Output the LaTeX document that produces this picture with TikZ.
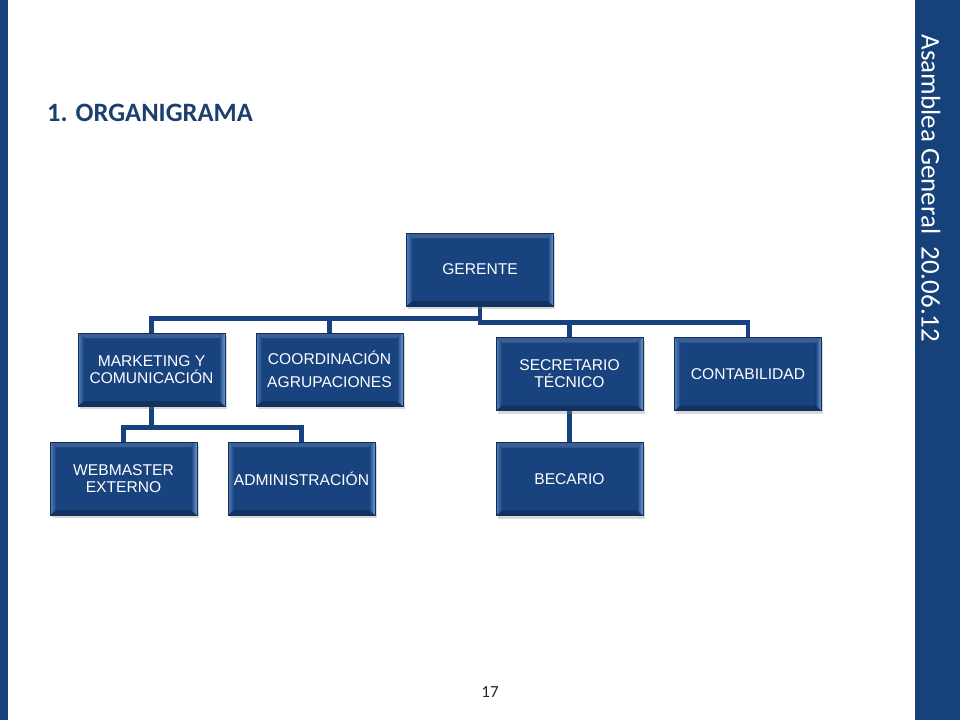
\documentclass[tikz,border=0pt]{standalone}
\usepackage{fontspec}
\setmainfont{Liberation Sans}
\newfontfamily\calibrifont{Carlito}
\usetikzlibrary{shadows,backgrounds}
\definecolor{barblue}{HTML}{16417A}
\definecolor{titleblue}{HTML}{1C3F6E}
\definecolor{boxblue}{HTML}{18437F}
\definecolor{bevellight}{HTML}{6F9AD0}
\definecolor{linkblue}{HTML}{17427F}

\begin{document}
\begin{tikzpicture}[x=1pt,y=-1pt,
  orgbox/.style={draw=boxblue!70!black,line width=0.6pt,fill=boxblue,
    minimum width=147pt,minimum height=73pt,inner sep=0pt,
    text=white,align=center,font=\fontsize{15.6}{17}\selectfont,
    drop shadow={shadow xshift=1.5pt,shadow yshift=-3pt,opacity=0.3},
    path picture={
      \fill[boxblue!85!white] (path picture bounding box.north west) -- (path picture bounding box.north east)
        -- ([shift={(-6pt,-5pt)}]path picture bounding box.north east) -- ([shift={(6pt,-5pt)}]path picture bounding box.north west) -- cycle;
      \fill[boxblue!75!black] (path picture bounding box.south west) -- (path picture bounding box.south east)
        -- ([shift={(-6pt,5pt)}]path picture bounding box.south east) -- ([shift={(6pt,5pt)}]path picture bounding box.south west) -- cycle;
      \shade[left color=bevellight!70!boxblue,right color=boxblue] (path picture bounding box.north west)
        -- ([shift={(6pt,-5pt)}]path picture bounding box.north west) -- ([shift={(6pt,5pt)}]path picture bounding box.south west)
        -- (path picture bounding box.south west) -- cycle;
      \shade[left color=boxblue,right color=bevellight] (path picture bounding box.north east)
        -- ([shift={(-6pt,-5pt)}]path picture bounding box.north east) -- ([shift={(-6pt,5pt)}]path picture bounding box.south east)
        -- (path picture bounding box.south east) -- cycle;}},
  link/.style={linkblue,line width=4.5pt}]
\useasboundingbox (0,0) rectangle (960,720);
            % Frame
\fill[barblue] (0,0) rectangle (8,720);
\fill[barblue] (915,0) rectangle (960,720);
\node[rotate=-90,text=white,font=\calibrifont\fontsize{27}{31}\selectfont] (side) at (931,188.5) {Asamblea General\ \ 20.06.12};
\node[anchor=west,inner sep=0pt,text=titleblue,font=\calibrifont\bfseries\fontsize{26.5}{31}\selectfont] (title) at (47,113) {1. ORGANIGRAMA};
\node[text=black!85,font=\calibrifont\fontsize{17}{20}\selectfont] (page) at (490,692) {17};
            % Boxes
\node[orgbox] (ger) at (480,269.5) {GERENTE};
\node[orgbox] (mkt) at (151.5,369.5) {MARKETING Y\\COMUNICACIÓN};
\node[orgbox,font=\fontsize{15.6}{23.5}\selectfont] (coo) at (329.5,369.5) {COORDINACIÓN\\AGRUPACIONES};
\node[orgbox] (sec) at (569.5,374) {SECRETARIO\\TÉCNICO};
\node[orgbox] (con) at (748,374) {CONTABILIDAD};
\node[orgbox] (web) at (123.5,478.5) {WEBMASTER\\EXTERNO};
\node[orgbox] (adm) at (301.5,478.5) {ADMINISTRACIÓN};
\node[orgbox] (bec) at (569.5,479) {BECARIO};
            % Links
\begin{scope}[on background layer]
\draw[link] (ger.south) -- ++(0,12) -| (mkt.north);
\draw[link] (ger.south) -- ++(0,12) -| (coo.north);
\draw[link] (ger.south) -- ++(0,16) -| (sec.north);
\draw[link] (ger.south) -- ++(0,16) -| (con.north);
\draw[link] (mkt.south) -- ++(0,21) -| (web.north);
\draw[link] (mkt.south) -- ++(0,21) -| (adm.north);
\draw[link] (sec.south) -- (bec.north);
\end{scope}
\end{tikzpicture}
\end{document}
